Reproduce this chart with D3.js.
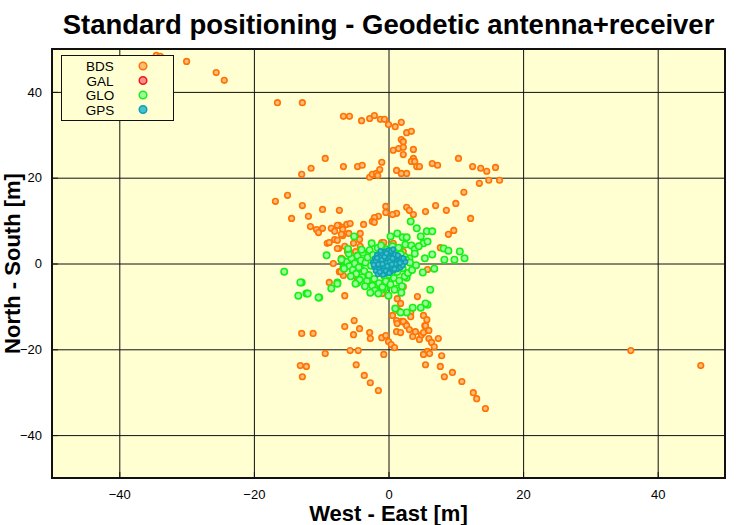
<!doctype html>
<html>
<head>
<meta charset="UTF-8">
<script src="https://d3js.org/d3.v7.min.js"></script>
<style>
	body { margin: 0; background: #fff; }
	text { font-family: "Liberation Sans", Arial, sans-serif; }
</style>
</head>
<body>
	<svg id="chartWrapper"></svg>

	<script>
		// positions in metres, [west-east, north-south]
		let bdsPoints = [
			[-34.5,48.5],[-33.9,48.3],[-30.0,47.1],[-25.6,44.5],[-24.4,42.7],[-16.5,37.5],[-12.8,37.5],
			[-6.7,34.3],[-5.8,34.3],[-4.0,33.3],[-2.8,33.8],[-2.1,34.5],[-9.4,24.5],[-11.5,22.2],[-12.9,20.8],
			[-6.7,22.6],[-4.6,22.6],[-3.9,22.9],[-2.8,20.1],[-2.4,20.8],[-1.8,21.0],[-15.0,15.9],
			[-1.2,33.6],[-0.6,33.6],[0.0,32.4],[1.0,31.9],[1.9,32.9],[2.7,30.5],[3.4,30.8],[1.9,28.9],[2.2,28.4],
			[0.7,26.4],[1.5,26.8],[2.2,27.1],[3.7,26.6],[2.2,25.4],[3.7,24.5],[3.4,23.8],[3.9,23.8],[4.2,22.6],
			[4.6,22.6],[6.5,23.3],[7.3,22.9],[10.4,24.5],[12.5,22.6],[13.7,22.2],[14.6,21.5],[15.9,22.4],
			[14.9,19.4],[16.5,19.4],[13.5,18.7],[11.2,16.6],[-1.0,23.6],[-1.3,21.9],[1.2,21.7],[1.9,21.0],
			[2.7,21.0],[-1.6,20.5],
			[-16.8,14.5],[-12.8,13.5],[-9.8,12.6],[-7.3,12.4],[-11.9,11.0],[-14.4,10.5],[-11.6,8.6],[-10.7,7.9],
			[-10.4,7.2],[-9.8,8.2],[-8.5,8.2],[-7.4,8.9],[-6.8,8.4],[-6.2,9.1],[-6.8,6.5],[-8.0,5.6],[-7.6,5.4],
			[-9.1,4.7],[-8.8,4.9],[-7.4,3.5],[-6.5,4.0],[-7.0,1.2],[-6.1,2.8],[-8.2,0.0],[-7.3,-1.9],[-6.7,-2.8],
			[-8.8,-4.4],[-6.5,-7.5],
			[-0.4,13.3],[-0.4,11.9],[2.7,13.1],[3.1,12.4],[1.2,11.7],[0.6,11.4],[-1.5,11.0],[-2.1,10.7],
			[-2.4,9.8],[-2.1,9.6],[3.7,11.4],[5.5,12.1],[7.0,13.5],[8.6,12.4],[10.0,14.0],[12.2,10.5],
			[8.9,6.8],[9.7,7.7],[7.7,3.7],[-3.7,9.1],[-5.7,9.3],[-6.8,7.9],[-7.6,8.9],[-8.0,7.5],[-7.0,6.8],
			[-5.9,7.0],[-4.2,7.0],[-4.3,5.6],[-5.2,4.7],[-4.2,4.0],[-4.9,2.8],[-5.9,2.8],[-7.6,3.5],[-6.8,0.9],
			[-7.1,-1.9],[-4.6,-3.7],[-3.3,-3.7],[-1.0,4.9],[-0.7,4.9],[0.7,4.7],[2.2,2.8],[5.8,-1.4],
			[4.3,-7.7],[-0.9,-7.0],[1.3,-8.2],[2.2,-5.4],[1.8,-9.3],
			[0.6,-12.1],[1.5,-11.0],[1.9,-13.5],[2.5,-14.0],[3.3,-11.4],[3.3,-12.4],[5.2,-12.1],[5.7,-13.1],
			[5.4,-14.5],[1.2,-13.3],
			[-12.9,-16.3],[-11.2,-16.3],[-6.5,-14.7],[-5.1,-13.3],[-4.3,-15.2],[-5.2,-16.6],[-2.8,-16.1],
			[-2.7,-17.5],[-1.0,-17.3],[-0.4,-16.8],[0.0,-18.2],[0.4,-18.9],[0.9,-19.6],[-0.7,-21.2],
			[-9.4,-21.0],[-5.7,-20.3],[-4.5,-20.3],[-13.1,-23.8],[-12.2,-24.0],[-12.8,-26.4],[-4.8,-23.6],
			[-3.6,-26.1],[-2.7,-27.8],[-1.5,-29.6],
			[1.2,-15.9],[1.3,-14.0],[1.8,-16.1],[2.2,-13.5],[2.7,-14.5],[3.1,-15.4],[3.6,-17.0],[4.0,-15.9],
			[4.6,-17.7],[4.9,-16.6],[5.2,-16.1],[5.5,-14.5],[6.0,-17.5],[6.0,-15.6],[6.4,-18.4],[6.8,-19.4],
			[7.4,-17.5],[5.8,-20.5],[6.1,-21.0],[5.2,-21.2],[7.9,-21.5],[5.5,-23.6],[7.7,-24.0],[9.5,-25.4],
			[8.3,-26.4],[10.9,-27.5],[12.6,-30.1],[13.1,-31.5],[14.4,-33.8],
			[36.0,-20.3],[46.4,-23.8]
		];
		let galPoints = [];
		let gloPoints = [
			[3.3,9.8],[0.3,6.3],[1.3,7.0],[2.1,6.1],[2.7,6.1],[4.2,8.2],[5.7,7.5],[6.5,7.5],[4.8,6.3],[5.2,4.7],
			[5.8,5.1],[2.5,4.4],[3.4,4.2],[3.9,3.3],[4.5,4.0],[3.9,2.3],[3.1,1.2],[2.4,1.6],[6.5,2.1],[8.2,3.5],
			[8.9,3.0],[10.6,2.8],[5.4,1.2],[8.3,0.9],[9.8,0.9],[11.3,1.2],[6.8,-1.2],[5.1,-2.1],[6.2,-6.1],
			[5.8,-9.6],[5.5,-9.3],[4.8,-10.3],[3.6,-10.3],[2.7,-11.4],[1.8,-11.4],[1.0,-10.5],[2.7,-3.3],
			[1.3,-5.8],[-0.3,-5.4],[-0.6,-5.8],[-1.8,-5.1],[-2.5,-4.0],[-3.3,-2.6],[-4.2,-1.2],[-4.6,-4.4],
			[-5.2,0.5],[-7.6,-4.4],[-8.5,-5.8],[-10.3,-7.9],[-12.2,-7.0],[-12.9,-4.4],[-9.2,1.9],[-6.7,-0.9],
			[-5.1,6.3],[-2.5,4.7],[0.3,2.8],[0.9,3.0],[1.6,3.5],[-15.5,-1.9],[-13.1,-4.4],[-13.4,-7.5],
			[-12.0,-7.0],[-10.4,-7.9],[-7.6,-4.7],
			[-6.2,0.4],[-5.8,-0.6],[-5.5,1.2],[-5.3,-1.5],[-5.0,0.0],[-4.8,-2.4],[-4.6,1.8],[-4.4,-0.9],
			[-4.1,0.7],[-3.9,-3.2],[-3.8,2.5],[-3.6,-1.8],[-3.4,0.2],[-3.2,-4.1],[-3.1,1.4],[-2.9,-2.7],
			[-2.8,3.1],[-2.6,-0.5],[-2.4,-5.2],[-2.3,2.0],[-2.1,-3.6],[-1.9,0.9],[-1.7,-1.4],[-1.6,3.6],
			[-1.4,-4.6],[-1.2,-2.2],[-1.0,-6.0],[-0.8,2.7],[-0.6,-3.0],[-0.4,-4.2],[-0.2,3.3],[0.1,-2.6],
			[0.3,-4.9],[0.5,2.4],[0.8,-3.4],[1.0,1.6],[1.3,-2.0],[1.6,-4.0],[1.8,2.2],[2.1,-1.1],[2.4,-3.0],
			[2.6,0.8],[2.9,-2.2],[3.2,0.2],[-6.6,-1.2],[-5.9,2.3],[-4.3,-3.8],[-3.5,-5.3],[-2.0,-6.3],
			[-1.1,4.2],[0.6,4.0],[1.5,3.7],[-7.0,0.9],[-5.6,-3.0],[-4.0,3.2],[-2.7,-6.8],[-0.9,-5.5],
			[0.9,-6.1],[2.0,-5.3],[3.5,-1.5],[4.1,-0.4],[-6.0,3.4],[-4.9,-4.7],[-1.5,-7.0],[0.0,-7.5],[1.9,-6.8]
		];
		let gpsPoints = [
			[-2.3,0.3],[-2.1,-0.8],[-2.0,1.2],[-1.9,-1.7],[-1.8,0.0],[-1.7,2.0],[-1.6,-2.5],[-1.5,0.8],
			[-1.4,-1.1],[-1.3,1.6],[-1.2,-0.4],[-1.1,-2.1],[-1.0,2.4],[-0.9,0.5],[-0.8,-1.5],[-0.7,1.1],
			[-0.6,-0.7],[-0.5,2.8],[-0.4,-2.3],[-0.3,0.2],[-0.2,1.8],[-0.1,-1.2],[0.0,3.1],[0.1,-0.3],
			[0.2,1.3],[0.3,-1.9],[0.4,0.7],[0.5,2.5],[0.6,-0.9],[0.7,1.7],[0.8,-1.6],[0.9,0.1],[1.0,2.1],
			[1.1,-0.5],[1.2,1.0],[1.3,-1.3],[1.4,0.5],[1.5,1.6],[1.6,-0.2],[1.7,0.9],[1.8,-0.9],[1.9,1.3],
			[2.0,0.3],[2.1,-0.4],[2.3,0.8],[2.5,0.4],[-1.9,0.6],[-1.5,-0.2],[-1.0,0.9],[-0.6,1.6],[-0.2,-0.6],
			[0.2,0.4],[0.6,1.2],[1.0,-0.1],[1.4,1.9],[-0.8,-2.6],[-1.3,-1.9],[-0.3,2.4],[0.4,2.9],[0.9,-1.3],
			[-2.2,-0.3],[-1.7,1.3],[-0.4,-1.7],[0.1,-2.2],[1.7,0.2],[2.2,1.2],[-1.2,2.9],[0.7,3.3],[-0.9,-0.1],[0.5,-0.2]
		];
		let systems = ["BDS", "GAL", "GLO", "GPS"];
		let tickValues = [-40, -20, 0, 20, 40];

		(function(){

			let width = 750, height = 525;
			let margin = {top: 49, right: 25, bottom: 47, left: 52};
			let plotW = width - margin.left - margin.right,
				plotH = height - margin.top - margin.bottom;

			let colors = {
				BDS: {stroke: "#ff7300", fill: "#ffbb7a"},
				GAL: {stroke: "#f01818", fill: "#ff8c8c"},
				GLO: {stroke: "#16f016", fill: "#9cff9c"},
				GPS: {stroke: "#109fb0", fill: "#45c2cf"}
			};
			let seriesData = {BDS: bdsPoints, GAL: galPoints, GLO: gloPoints, GPS: gpsPoints};

			let xSca = d3.scaleLinear().domain([-50, 50]).range([0, plotW]);
			let ySca = d3.scaleLinear().domain([-50, 50]).range([plotH, 0]);

			let svg = d3.select("#chartWrapper")
						.attr("width", width)
						.attr("height", height);

			svg.append("text")
				 .attr("x", margin.left + plotW / 2)
				 .attr("y", 34)
				 .attr("text-anchor", "middle")
				 .style("font-size", "27.5px")
				 .style("font-weight", "bold")
				 .text("Standard positioning - Geodetic antenna+receiver");

			let chart = svg.append("g")
						   .attr("transform", "translate(" + margin.left + "," + margin.top + ")");

			chart.append("rect")
				 .attr("width", plotW)
				 .attr("height", plotH)
				 .attr("fill", "#ffffd2");

			// grid
			chart.append("g")
				 .attr("class", "grid")
				 .call(d3.axisBottom(xSca).tickValues(tickValues).tickSize(plotH).tickFormat(""))
				 .call(g => g.select(".domain").remove())
				 .call(g => g.selectAll("line").attr("stroke", "#111"));
			chart.append("g")
				 .attr("class", "grid")
				 .call(d3.axisRight(ySca).tickValues(tickValues).tickSize(plotW).tickFormat(""))
				 .call(g => g.select(".domain").remove())
				 .call(g => g.selectAll("line").attr("stroke", "#111"));

			// points, one layer per system
			systems.forEach(function(s){
				let r = s === "GPS" ? 2.3 : (s === "GLO" ? 3.2 : 2.8);
				chart.append("g")
					 .selectAll("circle")
					 .data(seriesData[s])
					 .enter().append("circle")
					   .attr("cx", d => xSca(d[0]))
					   .attr("cy", d => ySca(d[1]))
					   .attr("r", r)
					   .attr("fill", colors[s].fill)
					   .attr("stroke", colors[s].stroke)
					   .attr("stroke-width", 1.6);
			});

			// axes with tick labels
			let xAxis = chart.append("g")
							 .attr("transform", "translate(0," + plotH + ")")
							 .call(d3.axisBottom(xSca).tickValues(tickValues).tickSize(-6).tickPadding(12));
			let yAxis = chart.append("g")
							 .call(d3.axisLeft(ySca).tickValues(tickValues).tickSize(-6).tickPadding(10));
			[xAxis, yAxis].forEach(function(a){
				a.select(".domain").remove();
				a.selectAll("line").attr("stroke", "#111");
				a.selectAll("text")
				 .style("font-size", "13px")
				 .style("font-family", "'Liberation Sans', Arial, sans-serif")
				 .attr("fill", "#000");
			});

			// frame
			chart.append("rect")
				 .attr("width", plotW)
				 .attr("height", plotH)
				 .attr("fill", "none")
				 .attr("stroke", "#111")
				 .attr("stroke-width", 2);

			// legend
			let legend = chart.append("g")
							  .attr("transform", "translate(9,6)");
			legend.append("rect")
				  .attr("x", 0.5)
				  .attr("y", 0.5)
				  .attr("width", 112)
				  .attr("height", 65)
				  .attr("fill", "#ffffd2")
				  .attr("stroke", "#111");
			systems.forEach(function(s, i){
				legend.append("text")
					  .attr("x", 39)
					  .attr("y", 16 + i * 14.5)
					  .attr("text-anchor", "middle")
					  .style("font-size", "13.5px")
					  .text(s);
				legend.append("circle")
					  .attr("cx", 82)
					  .attr("cy", 11 + i * 14.5)
					  .attr("r", 3.8)
					  .attr("fill", colors[s].fill)
					  .attr("stroke", colors[s].stroke)
					  .attr("stroke-width", 1.5);
			});

			// axis titles
			svg.append("text")
			   .attr("x", margin.left + plotW / 2)
			   .attr("y", 521)
			   .attr("text-anchor", "middle")
			   .style("font-size", "22px")
			   .style("font-weight", "bold")
			   .text("West - East [m]");
			svg.append("text")
			   .attr("transform", "translate(20," + (margin.top + plotH / 2) + ") rotate(-90)")
			   .attr("text-anchor", "middle")
			   .style("font-size", "22px")
			   .style("font-weight", "bold")
			   .text("North - South [m]");

		})();
	</script>
</body>
</html>
